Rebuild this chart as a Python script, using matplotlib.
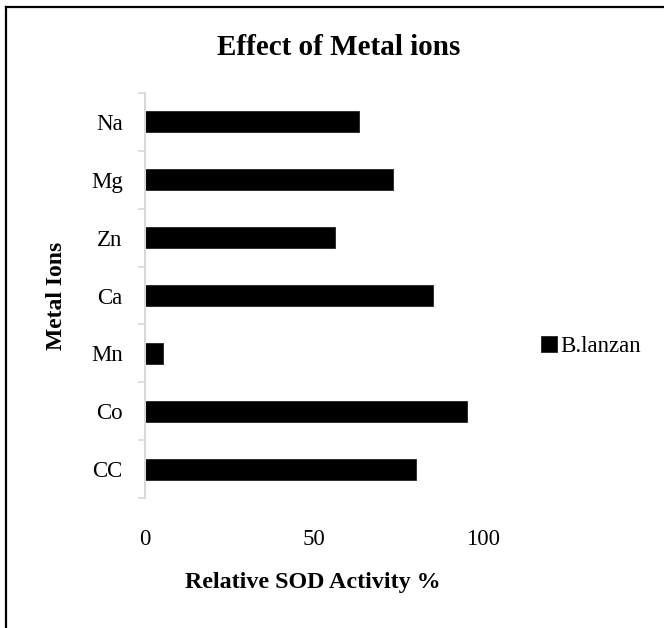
import numpy as np
import matplotlib.pyplot as plt
from matplotlib.lines import Line2D

# relative SOD activity for each metal ion (bottom to top)
ions = ['CC', 'Co', 'Mn', 'Ca', 'Zn', 'Mg', 'Na']
activity = [80.3, 95.3, 5.3, 85.3, 56.3, 73.3, 63.2]
x_ticks = [0, 50, 100]
series_name = 'B.lanzan'

plt.rcParams['font.family'] = ['Liberation Serif', 'DejaVu Serif']

fig = plt.figure(figsize=(6.64, 6.28), dpi=100)
ax = fig.add_axes([0.2184, 0.2070, 0.5090, 0.6449])

y = np.arange(len(ions))
ax.barh(y, activity, height=0.365, color='black', edgecolor='#222222',
        linewidth=0.6, label=series_name)

ax.set_xlim(0, 100)
ax.set_ylim(-0.5, len(ions) - 0.5)

ax.set_xticks(x_ticks)
ax.set_xticklabels([str(v) for v in x_ticks])
ax.tick_params(axis='x', length=0, pad=22, labelsize=16.5)

# category labels at bar centres, grey tick marks between categories
ax.set_yticks(y)
ax.set_yticklabels(ions)
ax.set_yticks(np.arange(len(ions) + 1) - 0.5, minor=True)
ax.tick_params(axis='y', which='major', length=0, pad=16, labelsize=16.5)
ax.tick_params(axis='y', which='minor', length=5, width=1.2, color='#d9d9d9')

for side in ['top', 'right', 'bottom']:
    ax.spines[side].set_visible(False)
ax.spines['left'].set_color('#d9d9d9')
ax.spines['left'].set_linewidth(1.5)

fig.text(0.5105, 0.924, 'Effect of Metal ions', ha='center', va='center',
         fontsize=21, fontweight='bold')
fig.text(0.4714, 0.0717, 'Relative SOD Activity %', ha='center', va='center',
         fontsize=17.3, fontweight='bold')
fig.text(0.0845, 0.5287, 'Metal Ions', ha='center', va='center',
         rotation=90, fontsize=17, fontweight='bold')

fig.legend(loc='center left', bbox_to_anchor=(0.815, 0.4475), frameon=False,
           fontsize=16.5, handlelength=0.7, handleheight=0.7,
           handletextpad=0.15, borderaxespad=0, borderpad=0)

# chart border (left and top edges)
fig.add_artist(Line2D([0.0095, 0.0095], [0, 0.9889], color='black', lw=1.6))
fig.add_artist(Line2D([0.0095, 1], [0.9889, 0.9889], color='black', lw=1.6))

fig.savefig('out.png', dpi=100)
